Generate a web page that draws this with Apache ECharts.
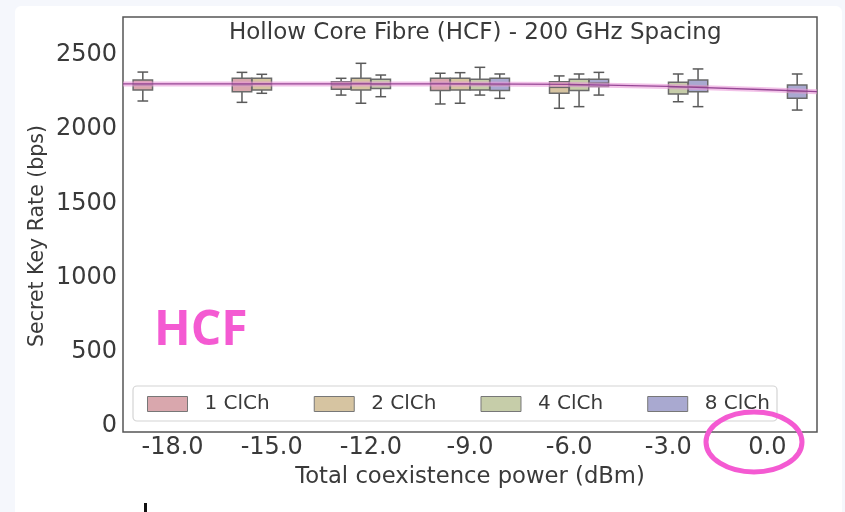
<!DOCTYPE html>
<html>
<head>
<meta charset="utf-8">
<script src="https://cdn.jsdelivr.net/npm/echarts@6/dist/echarts.min.js"></script>
<style>
  html, body { margin: 0; padding: 0; background: #f5f7fc; }
  #chart { width: 845px; height: 512px; }
</style>
</head>
<body>
<div id="chart"></div>
<script>
// ---------- DATA ----------
const xCats = ['-18.0', '-15.0', '-12.0', '-9.0', '-6.0', '-3.0', '0.0'];
const yTicks = [0, 500, 1000, 1500, 2000, 2500];
const seriesNames = ['1 ClCh', '2 ClCh', '4 ClCh', '8 ClCh'];
// each row: [x category, lower whisker, Q1, median, Q3, upper whisker]
const ch1Stats = [
  ['-18.0', 2190, 2264, 2298, 2332, 2385],
  ['-15.0', 2181, 2253, 2298, 2343, 2383],
  ['-12.0', 2230, 2269, 2298, 2320, 2343],
  ['-9.0',  2170, 2260, 2309, 2343, 2377]
];
const ch2Stats = [
  ['-15.0', 2242, 2264, 2305, 2343, 2370],
  ['-12.0', 2175, 2264, 2309, 2343, 2444],
  ['-9.0',  2175, 2264, 2305, 2343, 2381],
  ['-6.0',  2141, 2242, 2282, 2320, 2359]
];
const ch4Stats = [
  ['-12.0', 2219, 2275, 2301, 2336, 2365],
  ['-9.0',  2230, 2264, 2300, 2336, 2417],
  ['-6.0',  2152, 2260, 2295, 2336, 2372],
  ['-3.0',  2185, 2237, 2282, 2316, 2372]
];
const ch8Stats = [
  ['-9.0',  2208, 2260, 2298, 2343, 2372],
  ['-6.0',  2230, 2287, 2311, 2336, 2383],
  ['-3.0',  2152, 2253, 2287, 2332, 2406],
  ['0.0',   2129, 2208, 2253, 2298, 2372]
];
// fitted trend line (power in dBm, key rate)
const trendX = [-19.5, -18, -15, -12, -9, -6, -3, 0, 1.5];
const trendY = [2305, 2305, 2305, 2305, 2305, 2302, 2288, 2266, 2253];

// ---------- STYLE ----------
const boxColors = ['#d9a7ad', '#d6c4a1', '#c6cda9', '#a9a9d0'];
const allStats = [ch1Stats, ch2Stats, ch4Stats, ch8Stats];
const FONT = 'DejaVu Sans';
const TXT = '#3a3a3a';
const PINK = '#f45ad2';

function makeRender(hueIdx, color) {
  return function (params, api) {
    const cat = api.value(0);
    const lo = api.coord([cat, api.value(1)]);
    const q1 = api.coord([cat, api.value(2)]);
    const md = api.coord([cat, api.value(3)]);
    const q3 = api.coord([cat, api.value(4)]);
    const hi = api.coord([cat, api.value(5)]);
    const band = api.size([1, 0])[0];
    const slot = band * 0.8 / 4;
    const cx = lo[0] + (hueIdx - 1.5) * slot;
    const w = slot * 0.98;
    const cw = w * 0.55;
    const lineStyle = { stroke: '#5a5a5a', lineWidth: 1.5, fill: null };
    return {
      type: 'group',
      children: [
        { type: 'line', shape: { x1: cx, y1: hi[1], x2: cx, y2: q3[1] }, style: lineStyle },
        { type: 'line', shape: { x1: cx, y1: q1[1], x2: cx, y2: lo[1] }, style: lineStyle },
        { type: 'line', shape: { x1: cx - cw / 2, y1: hi[1], x2: cx + cw / 2, y2: hi[1] }, style: lineStyle },
        { type: 'line', shape: { x1: cx - cw / 2, y1: lo[1], x2: cx + cw / 2, y2: lo[1] }, style: lineStyle },
        { type: 'rect', shape: { x: cx - w / 2, y: q3[1], width: w, height: q1[1] - q3[1] },
          style: { fill: color, stroke: '#6a6a6a', lineWidth: 1.5 } },
        { type: 'line', shape: { x1: cx - w / 2, y1: md[1], x2: cx + w / 2, y2: md[1] },
          style: { stroke: '#6a6a6a', lineWidth: 1.5 } }
      ]
    };
  };
}

const series = allStats.map((stats, i) => ({
  name: seriesNames[i],
  type: 'custom',
  xAxisIndex: 0,
  yAxisIndex: 0,
  itemStyle: { color: boxColors[i] },
  renderItem: makeRender(i, boxColors[i]),
  data: stats.map(r => [xCats.indexOf(r[0]), r[1], r[2], r[3], r[4], r[5]]),
  z: 2
}));

const trendData = trendX.map((x, i) => [x, trendY[i]]);
series.push({
  type: 'line', xAxisIndex: 1, yAxisIndex: 0, data: trendData, symbol: 'none',
  lineStyle: { color: '#e99ad8', width: 5, opacity: 0.6 }, z: 5, silent: true
});
series.push({
  type: 'line', xAxisIndex: 1, yAxisIndex: 0, data: trendData, symbol: 'none',
  lineStyle: { color: '#8c3a8c', width: 1.3, opacity: 0.9 }, z: 6, silent: true
});

const chart = echarts.init(document.getElementById('chart'), null, { renderer: 'canvas' });
chart.setOption({
  backgroundColor: '#f5f7fc',
  animation: false,
  title: {
    text: 'Hollow Core Fibre (HCF) - 200 GHz Spacing',
    left: 224, top: 17,
    textStyle: { fontFamily: FONT, fontSize: 23, fontWeight: 'normal', color: TXT }
  },
  grid: {
    left: 123, right: 28, top: 17, bottom: 80, containLabel: false,
    show: true, borderColor: '#555', borderWidth: 1.5, backgroundColor: 'transparent'
  },
  legend: {
    data: seriesNames.map((n, i) => ({
      name: n, icon: 'rect',
      itemStyle: { color: boxColors[i], borderColor: '#777', borderWidth: 1 }
    })),
    left: 142, top: 389,
    itemWidth: 40, itemHeight: 15, itemGap: 44,
    textStyle: { fontFamily: FONT, fontSize: 20, color: TXT, padding: [0, 0, 0, 12] },
    selectedMode: false
  },
  xAxis: [{
    type: 'category', data: xCats, boundaryGap: true,
    axisLine: { show: false }, axisTick: { show: false }, splitLine: { show: false },
    axisLabel: { fontFamily: FONT, fontSize: 24, color: TXT, margin: 4 },
    name: 'Total coexistence power (dBm)', nameLocation: 'middle', nameGap: 34,
    nameTextStyle: { fontFamily: FONT, fontSize: 22.7, color: TXT }
  }, {
    type: 'value', min: -19.5, max: 1.5, show: false, position: 'top'
  }],
  yAxis: [{
    type: 'value', min: -40, max: 2756,
    axisLine: { show: false }, axisTick: { show: false }, splitLine: { show: false },
    axisLabel: { fontFamily: FONT, fontSize: 24, color: TXT, margin: 6, customValues: yTicks,
      formatter: v => String(v) }
  }],
  graphic: [
    { type: 'rect', z: -100, shape: { x: 15, y: 6, width: 827, height: 520, r: 6 },
      style: { fill: '#ffffff' } },
    { type: 'rect', z: 1, shape: { x: 133, y: 386, width: 644, height: 35, r: 4 },
      style: { fill: '#ffffff', stroke: '#d4d4d4', lineWidth: 1.2 } },
    { type: 'text', z: 10, x: 38, y: 236, rotation: Math.PI / 2,
      style: { text: 'Secret Key Rate (bps)', font: '20.5px "DejaVu Sans"', fill: TXT,
        textAlign: 'center', textVerticalAlign: 'middle' } },
    { type: 'text', z: 10, x: 154, y: 331,
      style: { text: 'HCF', font: 'bold 48px "Open Sans"', fill: PINK,
        textAlign: 'left', textVerticalAlign: 'middle' } },
    { type: 'ellipse', z: 10, shape: { cx: 754, cy: 442, rx: 48, ry: 30 },
      style: { fill: null, stroke: PINK, lineWidth: 5 } },
    { type: 'rect', z: 10, shape: { x: 144, y: 503, width: 3, height: 9 },
      style: { fill: '#111' } }
  ],
  series: series
});
</script>
</body>
</html>
